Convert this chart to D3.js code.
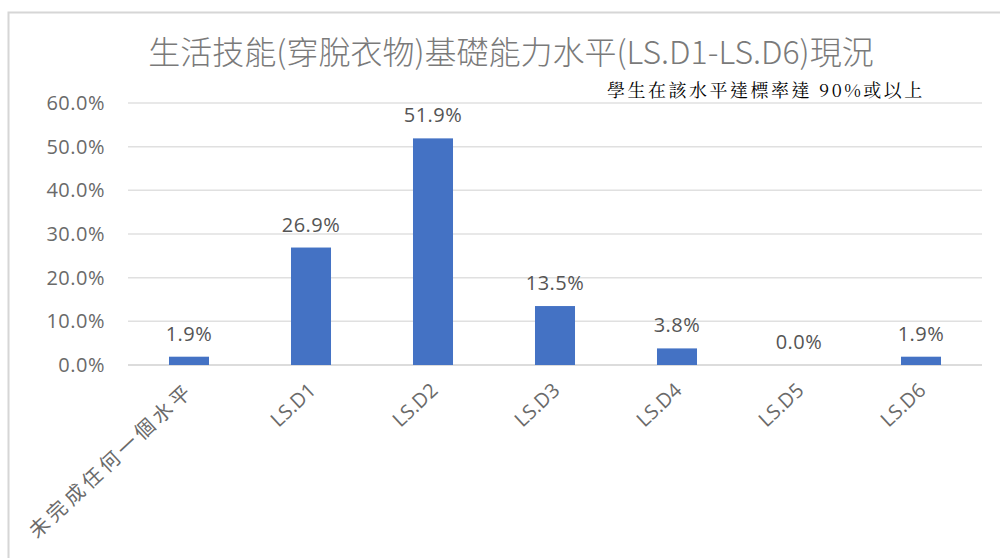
<!DOCTYPE html>
<html>
<head>
<meta charset="utf-8">
<script src="https://cdn.jsdelivr.net/npm/d3@7"></script>
<style>
  body { margin: 0; background: #fff; }
  svg { display: block; }
</style>
</head>
<body>
<svg id="canvas" width="1000" height="558"></svg>
<script>
let categories = ['未完成任何一個水平', 'LS.D1', 'LS.D2', 'LS.D3', 'LS.D4', 'LS.D5', 'LS.D6']
let percents = [1.9, 26.9, 51.9, 13.5, 3.8, 0.0, 1.9]
let yTicks = [0, 10, 20, 30, 40, 50, 60]
let titleText = '生活技能(穿脫衣物)基礎能力水平(LS.D1-LS.D6)現況'
let noteText = '學生在該水平達標率達 90%或以上'

let canvas = d3.select('#canvas')
let font = "'Open Sans', 'Noto Sans CJK TC', sans-serif"

// chart frame
canvas.append('path')
      .attr('d', 'M8.5,558 L8.5,12.5 L1000,12.5')
      .attr('fill', 'none')
      .attr('stroke', '#d6d6d6')
      .attr('stroke-width', 2)

let plotLeft = 128
let plotRight = 982
let plotTop = 103
let plotBottom = 365

let xScale = d3.scaleBand()
               .domain(categories)
               .range([plotLeft, plotRight])
               .paddingInner(0.672)
               .paddingOuter(0.336)

let yScale = d3.scaleLinear()
               .domain([0, 60])
               .range([plotBottom, plotTop])

// gridlines
canvas.append('g')
      .selectAll('line')
      .data(yTicks)
      .enter()
      .append('line')
      .attr('x1', plotLeft)
      .attr('x2', plotRight)
      .attr('y1', (t) => yScale(t))
      .attr('y2', (t) => yScale(t))
      .attr('stroke', (t) => t === 0 ? '#d0d0d0' : '#e0e0e0')
      .attr('stroke-width', 1.5)

// y axis labels
let yAxis = d3.axisLeft(yScale)
              .tickValues(yTicks)
              .tickSize(0)
              .tickPadding(0)
              .tickFormat((t) => t.toFixed(1) + '%')

let yAxisGroup = canvas.append('g')
                       .attr('transform', 'translate(105, 0)')
                       .call(yAxis)
yAxisGroup.select('.domain').remove()
yAxisGroup.selectAll('text')
          .attr('font-family', font)
          .attr('font-size', 20)
          .attr('letter-spacing', 0.5)
          .attr('fill', '#6a6a6a')

// bars
canvas.append('g')
      .selectAll('rect')
      .data(percents)
      .enter()
      .append('rect')
      .attr('x', (d, i) => xScale(categories[i]))
      .attr('y', (d) => yScale(d))
      .attr('width', xScale.bandwidth())
      .attr('height', (d) => plotBottom - yScale(d))
      .attr('fill', '#4472C4')

// value labels
canvas.append('g')
      .selectAll('text')
      .data(percents)
      .enter()
      .append('text')
      .attr('x', (d, i) => xScale(categories[i]) + xScale.bandwidth() / 2)
      .attr('y', (d) => yScale(d) - 16)
      .attr('text-anchor', 'middle')
      .attr('font-family', font)
      .attr('font-size', 20)
      .attr('letter-spacing', 0.5)
      .attr('fill', '#555555')
      .text((d) => d.toFixed(1) + '%')

// category labels, rotated
canvas.append('g')
      .selectAll('text')
      .data(categories)
      .enter()
      .append('text')
      .attr('transform', (c) => {
        let x = xScale(c) + xScale.bandwidth() / 2 + 6
        return 'translate(' + x + ', 392) rotate(-43)'
      })
      .attr('text-anchor', 'end')
      .attr('font-family', font)
      .attr('font-size', 20)
      .attr('letter-spacing', (c) => /^LS/.test(c) ? 0 : 4)
      .attr('fill', '#6a6a6a')
      .text((c) => c)

// title
canvas.append('text')
      .attr('x', 511)
      .attr('y', 64)
      .attr('text-anchor', 'middle')
      .attr('font-family', "'Noto Sans CJK TC', 'Open Sans', sans-serif")
      .attr('font-size', 32)
      .attr('font-weight', 300)
      .attr('fill', '#7a7a7a')
      .text(titleText)

// note
canvas.append('text')
      .attr('x', 607)
      .attr('y', 97)
      .attr('font-family', "'Noto Serif CJK TC', 'Liberation Serif', 'DejaVu Serif', serif")
      .attr('font-size', 18)
      .attr('letter-spacing', 2.5)
      .attr('fill', '#000')
      .text(noteText)
</script>
</body>
</html>
